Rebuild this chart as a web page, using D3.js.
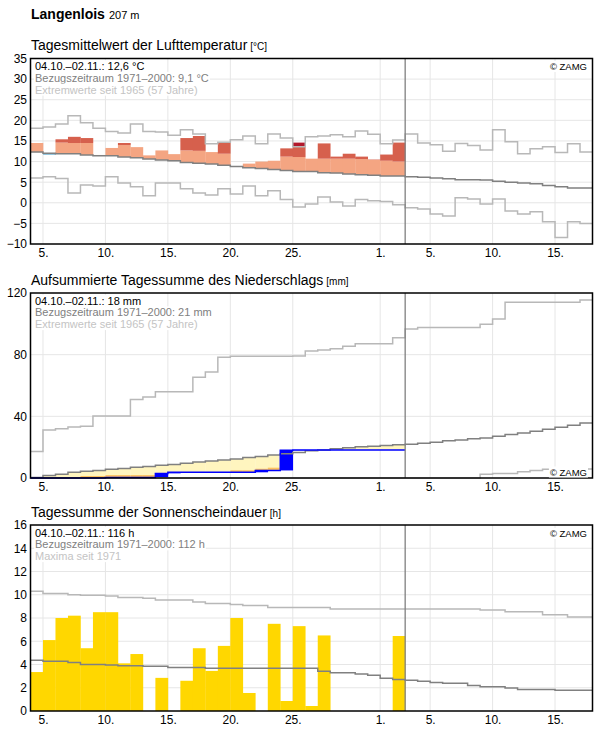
<!DOCTYPE html>
<html>
<head>
<meta charset="utf-8">
<script src="https://cdn.jsdelivr.net/npm/d3@7"></script>
<style>
body { margin: 0; background: #fff; }
svg text { font-family: "Liberation Sans", Arial, sans-serif; }
</style>
</head>
<body>
<script>
// ---- data (Oct 4 2021 .. Nov 17 2021, observations until Nov 2) ----
var tickDays = ["2021-10-05", "2021-10-10", "2021-10-15", "2021-10-20", "2021-10-25",
                "2021-11-01", "2021-11-05", "2021-11-10", "2021-11-15"];

var tempObs = [14.5, 11.6, 15.4, 16.0, 15.7, 11.6, 13.3, 14.5, 13.5, 11.5, 12.7, 11.8, 15.7, 16.2, 12.3,
               14.5, 8.7, 9.5, 10.0, 10.2, 13.2, 14.6, 10.7, 14.4, 11.2, 11.9, 11.2, 10.5, 11.7, 14.6];
var tempNormHigh = [15.2, 15.0, 14.6, 14.5, 14.5, 14.4, 14.3, 14.0, 13.8, 13.6, 13.4, 13.2, 12.7, 12.6, 12.4,
                    11.9, 11.8, 11.6, 11.4, 11.3, 11.2, 11.1, 10.8, 10.7, 10.7, 10.7, 10.6, 10.4, 10.2, 10.0];
var tempMean = [12.3, 12.0, 11.9, 11.9, 11.6, 11.4, 11.4, 11.1, 10.9, 10.6, 10.4, 10.2, 9.8, 9.6, 9.4,
                9.1, 8.8, 8.5, 8.3, 8.1, 7.8, 7.6, 7.6, 7.3, 7.2, 7.0, 6.8, 6.7, 6.5, 6.5,
                6.3, 6.2, 6.0, 5.8, 5.6, 5.6, 5.5, 5.2, 5.0, 4.8, 4.6, 4.2, 3.9, 3.6, 3.6];
var tempMax = [18.1, 18.4, 19.1, 21.1, 19.4, 18.1, 17.3, 16.9, 19.1, 17.3, 17.2, 16.4, 17.7, 16.7, 14.3,
               14.7, 15.3, 16.2, 14.3, 16.7, 15.7, 13.6, 16.0, 16.2, 16.5, 16.0, 17.4, 16.6, 14.3, 15.2,
               16.7, 14.5, 14.1, 12.5, 14.4, 13.9, 12.8, 17.7, 14.8, 11.9, 13.1, 13.6, 12.2, 14.3, 12.3];
var tempMin = [6.0, 6.3, 5.9, 2.4, 4.3, 4.1, 6.3, 4.8, 3.9, 1.7, 4.8, 4.8, 3.4, 2.4, 1.9,
               3.4, 2.1, 4.1, 1.7, 2.9, 0.8, -1.0, -0.3, 1.4, 0.2, -0.8, 0.8, 0.5, 0.3, -0.5,
               -1.2, -1.5, -2.7, -3.2, 1.2, 0.9, -0.3, 0.9, -2.0, -2.7, -2.2, -4.6, -8.4, -4.6, -5.0];

var precObs = [0, 0, 0, 0, 0, 0, 0.4, 0.4, 0.4, 0.4, 3.0, 3.7, 3.7, 3.7, 3.7,
               3.7, 3.7, 3.7, 4.9, 4.9, 18.0, 18.2, 18.2, 18.2, 18.2, 18.2, 18.2, 18.2, 18.2, 18.2];
var precNormLow = [0, 0, 0.4, 0.4, 1.3, 1.3, 1.9, 1.9, 1.9, 1.9, 2.4, 2.6, 2.8, 3.0, 3.3,
                   3.6, 5.0, 5.0, 6.0, 6.7, 7.3, 8.0, 8.6, 9.0, 9.5, 10.0, 10.4, 10.7, 11.0, 11.3];
var precMean = [0.4, 1.7, 2.4, 3.7, 4.3, 4.9, 5.6, 6.2, 6.9, 7.5, 8.2, 8.8, 9.5, 10.3, 11.0,
                11.6, 12.3, 13.3, 14.0, 14.9, 15.7, 16.5, 17.6, 18.1, 18.9, 19.6, 20.2, 20.6, 21.1, 21.5,
                21.9, 22.6, 23.2, 24.1, 24.7, 25.4, 26.0, 27.1, 28.2, 29.2, 30.3, 31.6, 32.9, 34.2, 35.7];
var precMax = [17.2, 31.2, 32.0, 33.1, 33.5, 40.2, 40.2, 40.2, 51.0, 52.5, 55.9, 55.9, 55.9, 65.4, 68.8,
               78.3, 78.9, 78.9, 78.9, 78.9, 78.9, 79.1, 82.4, 83.0, 83.9, 85.4, 87.1, 87.1, 87.1, 91.0,
               96.6, 97.6, 97.6, 97.6, 97.6, 97.6, 99.8, 103.2, 114.0, 114.0, 114.0, 114.0, 114.0, 114.0, 115.5];
var precMin = [0, 0, 0, 0, 0, 0, 0, 0, 0, 0, 0, 0, 0, 0, 0,
               0, 0, 0, 0, 0, 0, 0, 0, 0, 0, 0, 0, 0, 0, 0,
               0, 0, 0, 0, 0, 0, 2.4, 3.0, 3.0, 4.1, 4.9, 5.6, 5.8, 5.8, 5.8];

var sunObs = [3.35, 6.1, 8.0, 8.2, 5.4, 8.5, 8.5, 4.1, 4.9, 0, 2.85, 0, 2.6, 5.4, 3.45,
              5.6, 8.0, 1.55, 0, 7.5, 0.86, 7.3, 0.43, 6.5, 0, 0, 0, 0, 0, 6.45];
var sunMean = [4.36, 4.27, 4.27, 4.18, 4.0, 4.0, 3.95, 3.9, 3.9, 3.84, 3.84, 3.75, 3.75, 3.75, 3.67,
               3.67, 3.67, 3.67, 3.67, 3.67, 3.67, 3.67, 3.67, 3.41, 3.3, 3.3, 3.18, 3.07, 2.81, 2.72,
               2.64, 2.55, 2.46, 2.38, 2.38, 2.2, 2.09, 2.09, 1.98, 1.86, 1.86, 1.86, 1.78, 1.78, 1.78];
var sunMax = [10.3, 10.1, 10.1, 10.0, 9.95, 9.95, 9.9, 9.77, 9.77, 9.7, 9.54, 9.54, 9.54, 9.37, 9.25,
              9.25, 9.17, 9.08, 9.08, 8.9, 8.9, 8.9, 8.9, 8.9, 8.77, 8.77, 8.77, 8.77, 8.77, 8.77,
              8.77, 8.77, 8.77, 8.77, 8.77, 8.77, 8.68, 8.68, 8.54, 8.54, 8.54, 8.28, 8.28, 8.08, 8.08];

// ---- layout ----
var width = 596, height = 729;
var left = 30.5, right = 592.5;

var svg = d3.select("body").append("svg")
    .attr("width", width)
    .attr("height", height);

var parse = d3.utcParse("%Y-%m-%d");
var start = parse("2021-10-04");
var end = parse("2021-11-18");
var obsEnd = parse("2021-11-03");
var days = d3.utcDay.range(start, end);

var x = d3.scaleUtc().domain([start, end]).range([left, right]);
var dayW = x(days[1]) - x(days[0]);

var cGrid = "#e6e6e6", cMean = "#808080", cExt = "#b8b8b8";

function stepPath(vals, y) {
    var pts = vals.map((v, i) => [days[i], v]);
    pts.push([d3.utcDay.offset(days[vals.length - 1], 1), vals[vals.length - 1]]);
    return d3.line().x(d => x(d[0])).y(d => y(d[1])).curve(d3.curveStepAfter)(pts);
}

function textBg(g, t) {
    var b = t.node().getBBox();
    g.insert("rect", function() { return t.node(); })
        .attr("x", b.x - 1).attr("y", b.y)
        .attr("width", b.width + 2).attr("height", b.height)
        .attr("fill", "#fff");
}

function panel(p) {
    var y = d3.scaleLinear().domain(p.domain).range([p.bottom, p.top]);
    var g = svg.append("g");

    // grid
    g.selectAll(".hg").data(p.grid).enter().append("line")
        .attr("x1", left).attr("x2", right)
        .attr("y1", d => y(d)).attr("y2", d => y(d))
        .attr("stroke", cGrid).attr("stroke-width", 1);
    g.selectAll(".vg").data(tickDays.map(parse)).enter().append("line")
        .attr("x1", d => x(d)).attr("x2", d => x(d))
        .attr("y1", p.top).attr("y2", p.bottom)
        .attr("stroke", cGrid).attr("stroke-width", 1);

    // title
    var title = svg.append("text")
        .attr("x", 31).attr("y", p.top - 8.5)
        .attr("font-size", 14).attr("fill", "#000")
        .text(p.title);
    title.append("tspan").attr("dx", 3).attr("font-size", 10).text(p.unit);

    // axes
    var ya = g.append("g")
        .attr("transform", `translate(${left},0)`)
        .call(d3.axisLeft(y).tickValues(p.ticks).tickSize(0).tickPadding(3.5));
    ya.select(".domain").remove();
    ya.selectAll("text").attr("font-size", 12).attr("fill", "#000")
        .attr("font-family", "Liberation Sans, Arial, sans-serif");

    var xa = g.append("g")
        .attr("transform", `translate(0,${p.bottom})`)
        .call(d3.axisBottom(x).tickValues(tickDays.map(parse))
            .tickFormat(d3.utcFormat("%-d.")).tickSize(0).tickPadding(4.5));
    xa.select(".domain").remove();
    xa.selectAll("text").attr("font-size", 12).attr("fill", "#000")
        .attr("font-family", "Liberation Sans, Arial, sans-serif");

    return {g: g, y: y};
}

function finish(P, p) {
    var g = P.g;
    g.append("line")
        .attr("x1", x(obsEnd)).attr("x2", x(obsEnd))
        .attr("y1", p.top).attr("y2", p.bottom)
        .attr("stroke", "#808080").attr("stroke-width", 1.3);
    g.append("rect")
        .attr("x", left).attr("y", p.top)
        .attr("width", right - left).attr("height", p.bottom - p.top)
        .attr("fill", "none").attr("stroke", "#000").attr("stroke-width", 1.5);

    var cols = ["#000", "#808080", "#c4c4c4"];
    p.info.forEach((s, i) => {
        var t = g.append("text")
            .attr("x", 35).attr("y", p.top + 11.7 + i * 11.7)
            .attr("font-size", 11).attr("fill", cols[i])
            .text(s);
        textBg(g, t);
    });
    var z = g.append("text")
        .attr("x", 587).attr("y", p.zamgY)
        .attr("text-anchor", "end")
        .attr("font-size", 9.5).attr("fill", "#000")
        .text("\u00a9 ZAMG");
    textBg(g, z);
}

// heading
var head = svg.append("text")
    .attr("x", 31).attr("y", 18.5)
    .attr("font-size", 14).attr("font-weight", "bold")
    .text("Langenlois");
head.append("tspan").attr("dx", 4).attr("font-size", 11).attr("font-weight", "normal").text("207 m");

// ---- panel 1: temperature ----
var p1 = {
    top: 58.5, bottom: 244, domain: [-10, 35],
    ticks: d3.range(-10, 36, 5), grid: d3.range(-5, 35, 5),
    title: "Tagesmittelwert der Lufttemperatur", unit: "[\u00b0C]",
    info: ["04.10.\u201302.11.: 12,6 \u00b0C", "Bezugszeitraum 1971\u20132000: 9,1 \u00b0C", "Extremwerte seit 1965 (57 Jahre)"],
    zamgY: 70
};
var P1 = panel(p1);
var y1 = P1.y;
var segs = [];
tempObs.forEach((v, i) => {
    var m = tempMean[i], hi = tempNormHigh[i], mx = tempMax[i];
    if (v >= m) {
        segs.push({i: i, a: m, b: Math.min(v, hi), c: "#f4a582"});
        if (v > hi) segs.push({i: i, a: hi, b: Math.min(v, mx), c: "#d6604d"});
        if (v > mx) segs.push({i: i, a: Math.max(mx, hi), b: v, c: "#b2182b"});
    } else {
        segs.push({i: i, a: v, b: m, c: "#92c5de"});
    }
});
P1.g.selectAll(".tb").data(segs).enter().append("rect")
    .attr("x", d => x(days[d.i]))
    .attr("width", dayW + 0.3)
    .attr("y", d => y1(d.b))
    .attr("height", d => Math.max(0, y1(d.a) - y1(d.b)))
    .attr("fill", d => d.c);
[[tempMax, cExt], [tempMin, cExt], [tempMean, cMean]].forEach(s => {
    P1.g.append("path").attr("d", stepPath(s[0], y1))
        .attr("fill", "none").attr("stroke", s[1]).attr("stroke-width", 1.5);
});
finish(P1, p1);

// ---- panel 2: precipitation ----
var p2 = {
    top: 293, bottom: 478, domain: [0, 120],
    ticks: [0, 40, 80, 120], grid: [40, 80],
    title: "Aufsummierte Tagessumme des Niederschlags", unit: "[mm]",
    info: ["04.10.\u201302.11.: 18 mm", "Bezugszeitraum 1971\u20132000: 21 mm", "Extremwerte seit 1965 (57 Jahre)"],
    zamgY: 475.5
};
var P2 = panel(p2);
var y2 = P2.y;
var fills = [];
precObs.forEach((v, i) => {
    var m = precMean[i], lo = precNormLow[i];
    if (m > v) fills.push({i: i, a: v, b: m, c: "#fff5bf"});
    if (lo > v) fills.push({i: i, a: v, b: Math.min(lo, m), c: "#fdc25e"});
    var prev = i > 0 ? precObs[i - 1] : 0;
    if (v > prev) fills.push({i: i, a: prev, b: v, c: "#0000ff"});
});
P2.g.selectAll(".pb").data(fills).enter().append("rect")
    .attr("x", d => x(days[d.i]))
    .attr("width", dayW + 0.3)
    .attr("y", d => y2(d.b))
    .attr("height", d => Math.max(0, y2(d.a) - y2(d.b)))
    .attr("fill", d => d.c);
[[precMax, cExt], [precMin, cExt], [precMean, cMean]].forEach(s => {
    P2.g.append("path").attr("d", stepPath(s[0], y2))
        .attr("fill", "none").attr("stroke", s[1]).attr("stroke-width", 1.5);
});
P2.g.append("path").attr("d", stepPath(precObs, y2))
    .attr("fill", "none").attr("stroke", "#0000ff").attr("stroke-width", 1.5);
finish(P2, p2);

// ---- panel 3: sunshine ----
var p3 = {
    top: 525, bottom: 711, domain: [0, 16],
    ticks: d3.range(0, 17, 2), grid: d3.range(2, 16, 2),
    title: "Tagessumme der Sonnenscheindauer", unit: "[h]",
    info: ["04.10.\u201302.11.: 116 h", "Bezugszeitraum 1971\u20132000: 112 h", "Maxima seit 1971"],
    zamgY: 537
};
var P3 = panel(p3);
var y3 = P3.y;
P3.g.selectAll(".sb").data(sunObs).enter().append("rect")
    .attr("x", (d, i) => x(days[i]))
    .attr("width", dayW + 0.3)
    .attr("y", d => y3(d))
    .attr("height", d => y3(0) - y3(d))
    .attr("fill", "#ffd700");
[[sunMax, cExt], [sunMean, cMean]].forEach(s => {
    P3.g.append("path").attr("d", stepPath(s[0], y3))
        .attr("fill", "none").attr("stroke", s[1]).attr("stroke-width", 1.5);
});
finish(P3, p3);
</script>
</body>
</html>
